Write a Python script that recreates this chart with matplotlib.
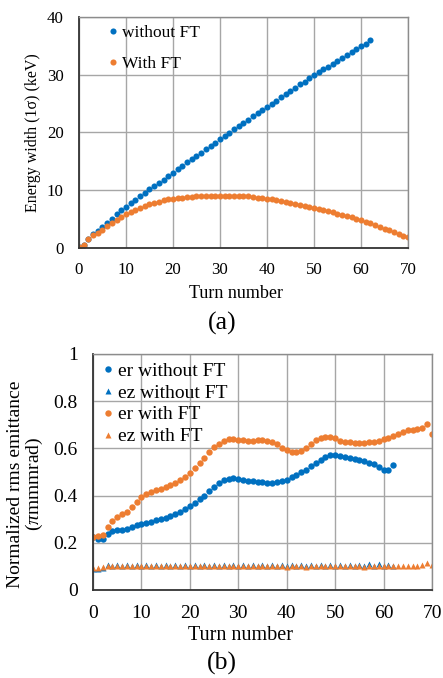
import numpy as np
import matplotlib
matplotlib.use('Agg')
import matplotlib.pyplot as plt

plt.rcParams['font.family'] = ['Liberation Serif', 'DejaVu Serif']
plt.rcParams['mathtext.fontset'] = 'custom'
plt.rcParams['mathtext.rm'] = 'Liberation Serif'
plt.rcParams['mathtext.it'] = 'Liberation Serif:italic'

BLUE = '#0070C0'
ORANGE = '#ED7D31'

# (a) energy width (keV) vs turn number
turns_a_without = list(range(0, 63))
width_without = [0.2, 0.5, 1.5, 2.3, 2.9, 3.5, 4.2, 5.0, 5.8, 6.5,
                 7.1, 7.7, 8.3, 8.9, 9.5, 10.1, 10.7, 11.3, 11.8, 12.4,
                 13.0, 13.6, 14.2, 14.8, 15.3, 15.9, 16.5, 17.1, 17.6, 18.2,
                 18.8, 19.4, 19.9, 20.5, 21.1, 21.6, 22.2, 22.8, 23.3, 23.9,
                 24.4, 25.0, 25.5, 26.1, 26.6, 27.2, 27.7, 28.3, 28.8, 29.4,
                 29.9, 30.4, 30.9, 31.4, 31.9, 32.4, 32.9, 33.4, 33.9, 34.4,
                 34.9, 35.4, 36.0]
turns_a_with = list(range(0, 71))
width_with = [0.2, 0.5, 1.5, 2.2, 2.6, 3.1, 3.7, 4.3, 4.8, 5.3,
              5.8, 6.2, 6.6, 6.9, 7.2, 7.5, 7.8, 8.0, 8.2, 8.4,
              8.5, 8.6, 8.7, 8.8, 8.8, 8.9, 8.9, 8.9, 9.0, 9.0,
              9.0, 9.0, 9.0, 9.0, 8.9, 8.9, 8.9, 8.8, 8.7, 8.6,
              8.5, 8.4, 8.2, 8.1, 7.9, 7.8, 7.6, 7.4, 7.3, 7.1,
              6.9, 6.7, 6.5, 6.3, 6.1, 5.9, 5.7, 5.5, 5.3, 5.0,
              4.8, 4.5, 4.2, 3.9, 3.6, 3.3, 3.0, 2.7, 2.4, 2.1,
              1.9]

# (b) normalized rms emittance vs turn number
turns_b_without = list(range(0, 63))
er_without = [0.225, 0.215, 0.218, 0.238, 0.250, 0.255, 0.255, 0.257, 0.265, 0.275,
              0.280, 0.285, 0.290, 0.295, 0.300, 0.305, 0.312, 0.320, 0.330, 0.342,
              0.355, 0.370, 0.385, 0.400, 0.418, 0.435, 0.452, 0.465, 0.472, 0.473,
              0.470, 0.467, 0.463, 0.460, 0.458, 0.456, 0.455, 0.455, 0.458, 0.462,
              0.468, 0.477, 0.488, 0.498, 0.510, 0.525, 0.540, 0.552, 0.562, 0.570,
              0.572, 0.568, 0.562, 0.558, 0.555, 0.552, 0.547, 0.540, 0.532, 0.520,
              0.510, 0.510, 0.530]
ez_without = [0.090, 0.090, 0.095, 0.106, 0.100, 0.106, 0.100, 0.106, 0.100, 0.106,
              0.100, 0.106, 0.100, 0.106, 0.100, 0.106, 0.100, 0.106, 0.100, 0.107,
              0.101, 0.107, 0.101, 0.107, 0.101, 0.107, 0.101, 0.107, 0.101, 0.107,
              0.101, 0.107, 0.101, 0.107, 0.101, 0.108, 0.101, 0.108, 0.101, 0.108,
              0.101, 0.108, 0.101, 0.108, 0.101, 0.108, 0.101, 0.108, 0.101, 0.108,
              0.101, 0.108, 0.101, 0.108, 0.101, 0.108, 0.101, 0.109, 0.102, 0.109,
              0.102, 0.108, 0.102]
turns_b_with = list(range(0, 71))
er_with = [0.225, 0.230, 0.235, 0.265, 0.292, 0.308, 0.320, 0.330, 0.352, 0.372,
           0.393, 0.408, 0.416, 0.424, 0.430, 0.436, 0.443, 0.455, 0.466, 0.478,
           0.494, 0.515, 0.538, 0.560, 0.583, 0.605, 0.620, 0.632, 0.640, 0.640,
           0.637, 0.634, 0.632, 0.633, 0.635, 0.634, 0.632, 0.628, 0.618, 0.602,
           0.592, 0.586, 0.586, 0.590, 0.600, 0.617, 0.634, 0.645, 0.650, 0.650,
           0.643, 0.633, 0.628, 0.625, 0.624, 0.624, 0.624, 0.625, 0.626, 0.630,
           0.638, 0.645, 0.652, 0.660, 0.668, 0.676, 0.680, 0.683, 0.688, 0.702,
           0.663]
ez_with = [0.095, 0.093, 0.098, 0.102, 0.100, 0.101, 0.100, 0.101, 0.100, 0.101,
           0.100, 0.101, 0.100, 0.101, 0.100, 0.101, 0.100, 0.101, 0.100, 0.101,
           0.100, 0.101, 0.100, 0.101, 0.100, 0.101, 0.100, 0.101, 0.100, 0.101,
           0.100, 0.101, 0.100, 0.101, 0.100, 0.101, 0.100, 0.101, 0.100, 0.101,
           0.099, 0.101, 0.100, 0.101, 0.099, 0.101, 0.100, 0.101, 0.100, 0.101,
           0.100, 0.101, 0.100, 0.101, 0.100, 0.101, 0.099, 0.101, 0.100, 0.101,
           0.100, 0.101, 0.100, 0.101, 0.100, 0.101, 0.101, 0.101, 0.108, 0.115,
           0.108]


def style_axes(ax, fs, xpad, ypad):
    ax.grid(True, color='#a6a6a6', lw=1.0)
    ax.set_axisbelow(True)
    ax.tick_params(length=0, labelsize=fs)
    ax.tick_params(axis='x', pad=xpad)
    ax.tick_params(axis='y', pad=ypad)
    for s in ('top', 'right'):
        ax.spines[s].set_color('#8c8c8c')
        ax.spines[s].set_linewidth(1.0)
    for s in ('left', 'bottom'):
        ax.spines[s].set_color('#333333')
        ax.spines[s].set_linewidth(1.3)


fig = plt.figure(figsize=(4.43, 6.78), dpi=100)

# ---- (a)
ax1 = fig.add_axes([0.1783, 0.6347, 0.7427, 0.3402])
ax1.plot(turns_a_without, width_without, 'o', ms=4.4, color=BLUE, mec='none',
         label='without FT')
ax1.plot(turns_a_with, width_with, 'o', ms=4.4, color=ORANGE, mec='none',
         label='With FT')
ax1.set_xlim(0, 70)
ax1.set_ylim(0, 40)
ax1.set_xticks(np.arange(0, 71, 10))
ax1.set_yticks(np.arange(0, 41, 10))
style_axes(ax1, 12.2, 10, 11)
ax1.legend(loc='upper left', bbox_to_anchor=(0.04, 1.035), frameon=False,
           fontsize=12.5, handlelength=0.6, handletextpad=0.2,
           labelspacing=0.85)
fig.text(33 / 443, 1 - 133 / 678, 'Energy width (1σ) (keV)', rotation=90,
         ha='center', va='center', fontsize=11.5)
fig.text(236 / 443, 1 - 293 / 678, 'Turn number', ha='center', va='center',
         fontsize=13)
fig.text(222 / 443, 1 - 323 / 678, '(a)', ha='center', va='center',
         fontsize=18.5)

# ---- (b)
ax2 = fig.add_axes([0.2099, 0.1298, 0.7653, 0.3481])
ax2.plot(turns_b_without, er_without, 'o', ms=4.6, color=BLUE, mec='none',
         label='er without FT')
ax2.plot(turns_b_without, ez_without, '^', ms=4.4, color=BLUE, mec='none',
         label='ez without FT')
ax2.plot(turns_b_with, er_with, 'o', ms=4.6, color=ORANGE, mec='none',
         label='er with FT')
ax2.plot(turns_b_with, ez_with, '^', ms=4.4, color=ORANGE, mec='none',
         label='ez with FT')
ax2.set_xlim(0, 70)
ax2.set_ylim(0, 1)
ax2.set_xticks(np.arange(0, 71, 10))
ax2.set_yticks(np.linspace(0, 1, 6))
ax2.set_yticklabels(['0', '0.2', '0.4', '0.6', '0.8', '1'])
style_axes(ax2, 14, 10.5, 11)
ax2.legend(loc='upper left', bbox_to_anchor=(-0.025, 1.04), frameon=False,
           fontsize=14, handlelength=0.6, handletextpad=0.2,
           labelspacing=0.22)
fig.text(26 / 443, 1 - 484 / 678,
         'Normalized rms emittance\n($\\pi$mmmrad)', rotation=90,
         ha='center', va='center', fontsize=14, linespacing=1.0)
fig.text(241 / 443, 1 - 636 / 678, 'Turn number', ha='center', va='center',
         fontsize=14.5)
fig.text(222 / 443, 1 - 663 / 678, '(b)', ha='center', va='center',
         fontsize=18.5)

fig.savefig('out.png', dpi=100)
